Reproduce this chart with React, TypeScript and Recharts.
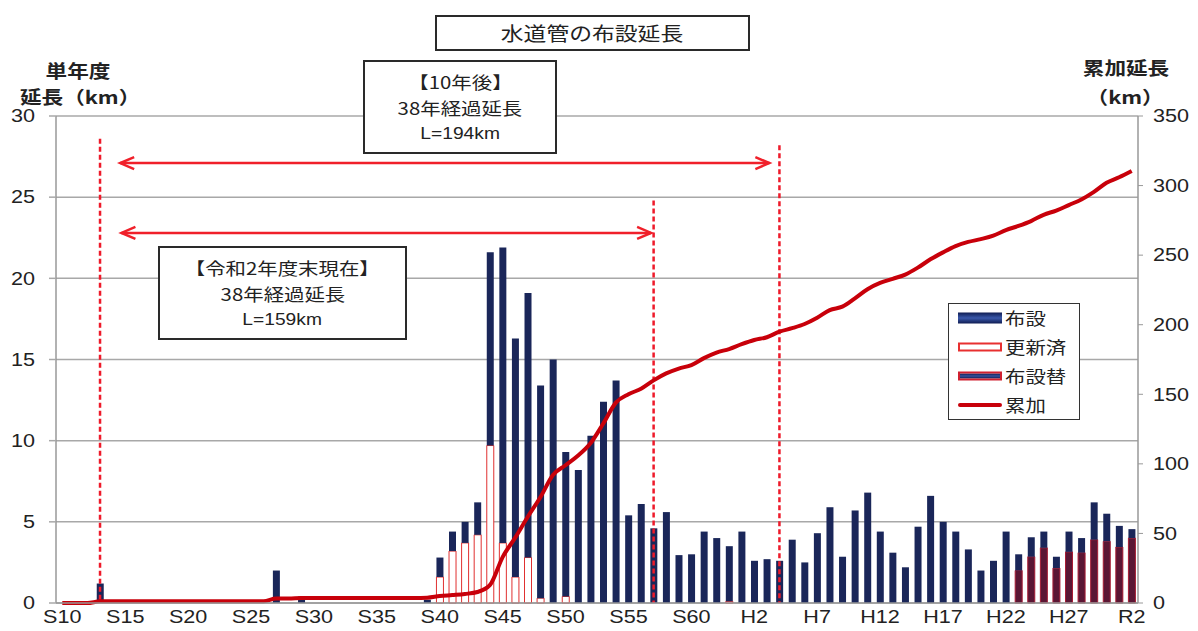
import React from 'react'
import {
  Bar,
  CartesianGrid,
  ComposedChart,
  Legend,
  Line,
  ReferenceLine,
  XAxis,
  YAxis,
} from 'recharts'

// fiscal years S10 (1935) .. R2 (2020), one bar per year
const years = Array.from({ length: 86 }, (_, i) => 1935 + i)

// 単年度延長 (km) – full height of each bar
const totalLength = [
  0, 0, 0, 1.2, 0, 0, 0, 0, 0, 0,
  0, 0, 0, 0, 0, 0, 0, 2.0, 0, 0.4,
  0, 0, 0, 0, 0, 0, 0, 0, 0, 0.2,
  2.8, 4.4, 5.0, 6.2, 21.6, 21.9, 16.3, 19.1, 13.4, 15.0,
  9.3, 8.2, 10.3, 12.4, 13.7, 5.4, 6.1, 4.6, 5.6, 2.95,
  3.0, 4.4, 4.0, 3.5, 4.4, 2.6, 2.7, 2.6, 3.9, 2.5,
  4.3, 5.9, 2.85, 5.7, 6.8, 4.4, 3.1, 2.2, 4.7, 6.6,
  5.0, 4.4, 3.3, 2.0, 2.6, 4.4, 3.0, 4.05, 4.4, 2.85,
  4.4, 4.0, 6.2, 5.5, 4.75, 4.55,
]

// 更新済 (km) – bottom part already renewed
const renewed = [
  0, 0, 0, 0, 0, 0, 0, 0, 0, 0,
  0, 0, 0, 0, 0, 0, 0, 0, 0, 0,
  0, 0, 0, 0, 0, 0, 0, 0, 0, 0,
  1.6, 3.2, 3.7, 4.2, 9.7, 3.7, 1.6, 2.8, 0.3, 0,
  0.4, 0, 0, 0, 0, 0, 0, 0, 0, 0,
  0, 0, 0, 0.1, 0, 0, 0, 0, 0, 0,
  0, 0, 0, 0, 0, 0, 0, 0, 0, 0,
  0, 0, 0, 0, 0, 0, 0, 0, 0, 0,
  0, 0, 0, 0, 0, 0,
]

// 布設替 (km)
const relaid = [
  0, 0, 0, 0, 0, 0, 0, 0, 0, 0,
  0, 0, 0, 0, 0, 0, 0, 0, 0, 0,
  0, 0, 0, 0, 0, 0, 0, 0, 0, 0,
  0, 0, 0, 0, 0, 0, 0, 0, 0, 0,
  0, 0, 0, 0, 0, 0, 0, 0, 0, 0,
  0, 0, 0, 0, 0, 0, 0, 0, 0, 0,
  0, 0, 0, 0, 0, 0, 0, 0, 0, 0,
  0, 0, 0, 0, 0, 0, 2.0, 2.85, 3.4, 2.15,
  3.15, 3.1, 3.9, 3.8, 3.45, 4.0,
]

// 累加延長 (km), right axis
const cumulative = [
  0, 0, 0, 1.2, 1.2, 1.2, 1.2, 1.2, 1.2, 1.2,
  1.2, 1.2, 1.2, 1.2, 1.2, 1.2, 1.2, 3.2, 3.2, 3.6,
  3.6, 3.6, 3.6, 3.6, 3.6, 3.6, 3.6, 3.6, 3.6, 3.8,
  5.0, 5.7, 6.5, 7.9, 13, 33, 47, 62, 76, 92,
  99, 106, 115, 129, 144, 150, 154, 160, 165, 168.5,
  171, 176, 180, 182.5, 186, 189, 191, 195, 197.5, 200.5,
  205, 210.5, 213, 219, 225.5, 230, 233, 236, 241, 247,
  252, 256.5, 259.5, 261.5, 264, 268, 271, 274.5, 279, 282,
  286, 290, 295.5, 302, 306, 310.5,
]

const tickYears = [1935, 1940, 1945, 1950, 1955, 1960, 1965, 1970, 1975, 1980, 1985, 1990, 1995, 2000, 2005, 2010, 2015, 2020]
const tickLabels = ['S10', 'S15', 'S20', 'S25', 'S30', 'S35', 'S40', 'S45', 'S50', 'S55', 'S60', 'H2', 'H7', 'H12', 'H17', 'H22', 'H27', 'R2']
const leftTicks = [0, 5, 10, 15, 20, 25, 30]
const rightTicks = [0, 50, 100, 150, 200, 250, 300, 350]

// annotations (year, km on left axis)
const boundaryYears = Array.from({ length: 87 }, (_, i) => 1934.5 + i)
const unitTicks = Array.from({ length: 31 }, (_, i) => i)
const dashedMarks = [
  { year: 1938, top: 28.6 },
  { year: 1982, top: 24.8 },
  { year: 1992, top: 28.2 },
]
const arrows = [
  { from: 1939.6, to: 1991.2, at: 27.1 },
  { from: 1939.7, to: 1981.8, at: 22.8 },
]

const data = years.map((year, i) => ({
  year,
  renewed: renewed[i],
  relaid: relaid[i],
  laid: Math.round((totalLength[i] - renewed[i] - relaid[i]) * 100) / 100,
  cumulative: cumulative[i],
}))

const NAVY = '#1a2659'
const NUM_FONT = '"Liberation Sans", Arial, sans-serif'
const JP_FONT = '"Noto Sans CJK JP", "Noto Sans", sans-serif'

const Empty = () => <g />

function NumTick(props: any) {
  const { x, y, payload, textAnchor, dy, label } = props
  const text = label ? label(payload.value) : payload.value
  return (
    <g transform={`translate(${x},${y})`}>
      <text
        transform="scale(1.2,1)"
        textAnchor={textAnchor}
        dy={dy}
        fill="#222"
        fontSize={18}
        fontFamily={NUM_FONT}
      >
        {text}
      </text>
    </g>
  )
}

function ArrowShape(props: any) {
  const { x1, y1, x2, y2 } = props
  const hx = 14
  const hy = 6
  return (
    <g stroke="#f0202a" strokeWidth={2.5} fill="none">
      <line x1={x1} y1={y1} x2={x2} y2={y2} />
      <polyline points={`${x1 + hx},${y1 - hy} ${x1},${y1} ${x1 + hx},${y1 + hy}`} />
      <polyline points={`${x2 - hx},${y2 - hy} ${x2},${y2} ${x2 - hx},${y2 + hy}`} />
    </g>
  )
}

function Stretch({ children, size, bold, family = JP_FONT, scale = 1.2 }: any) {
  return (
    <span
      style={{
        display: 'inline-block',
        transform: `scaleX(${scale})`,
        fontSize: size,
        fontWeight: bold ? 700 : 400,
        fontFamily: family,
        whiteSpace: 'nowrap',
      }}
    >
      {children}
    </span>
  )
}

function LegendBox() {
  const rows = [
    { name: '布設', kind: 'laid' },
    { name: '更新済', kind: 'renewed' },
    { name: '布設替', kind: 'relaid' },
    { name: '累加', kind: 'line' },
  ]
  return (
    <div
      style={{
        width: 132,
        height: 117,
        boxSizing: 'border-box',
        border: '1.5px solid #333',
        background: '#fff',
        position: 'relative',
      }}
    >
      {rows.map((r, i) => {
        const cy = 14 + i * 29
        let swatch: React.CSSProperties
        if (r.kind === 'line') {
          swatch = { height: 4, background: '#c8000a', borderRadius: 2 }
        } else if (r.kind === 'renewed') {
          swatch = { height: 9, background: '#fff', border: '2px solid #e83030' }
        } else if (r.kind === 'relaid') {
          swatch = {
            height: 9,
            background: 'linear-gradient(#0f1c52, #34509e 50%, #0f1c52)',
            border: '2px solid #d02030',
          }
        } else {
          swatch = { height: 11, background: 'linear-gradient(#0f1c52, #3a58aa 50%, #0f1c52)' }
        }
        return (
          <div key={r.name}>
            <div
              style={{
                position: 'absolute',
                left: 9,
                width: 44,
                top: cy,
                transform: 'translateY(-50%)',
                boxSizing: 'border-box',
                ...swatch,
              }}
            />
            <div
              style={{
                position: 'absolute',
                left: 56,
                top: cy - 12,
                lineHeight: '24px',
                color: '#222',
              }}
            >
              <span
                style={{
                  display: 'inline-block',
                  transform: 'scaleX(1.2)',
                  transformOrigin: 'left center',
                  fontSize: 17,
                  fontFamily: JP_FONT,
                }}
              >
                {r.name}
              </span>
            </div>
          </div>
        )
      })}
    </div>
  )
}

const boxStyle: React.CSSProperties = {
  position: 'absolute',
  boxSizing: 'border-box',
  border: '2px solid #2a2a2a',
  background: '#fff',
  color: '#222',
  textAlign: 'center',
}

function AxisTitle({ cx, cy, children }: any) {
  return (
    <div
      style={{
        position: 'absolute',
        left: cx - 60,
        top: cy - 10,
        width: 120,
        height: 20,
        lineHeight: '20px',
        textAlign: 'center',
        color: '#222',
      }}
    >
      <Stretch size={18} bold>{children}</Stretch>
    </div>
  )
}

export default function App() {
  const xLabel = (v: number) => tickLabels[tickYears.indexOf(v)]
  return (
    <div
      style={{
        position: 'absolute',
        left: 0,
        top: 0,
        width: 1198,
        height: 631,
        background: '#fff',
        overflow: 'hidden',
      }}
    >
      <ComposedChart
        width={1198}
        height={631}
        data={data}
        margin={{ top: 116, right: 0, bottom: 0, left: 0 }}
      >
        <CartesianGrid
          xAxisId="main"
          yAxisId="left"
          vertical={false}
          stroke="#a8a8a8"
          strokeWidth={1.5}
        />
        <XAxis
          xAxisId="minor"
          type="number"
          dataKey="year"
          domain={[1934.5, 2020.5]}
          ticks={boundaryYears}
          interval={0}
          height={0}
          axisLine={false}
          tickLine={{ stroke: '#8fa0b0' }}
          tickSize={4}
          tick={Empty}
        />
        <XAxis
          xAxisId="main"
          type="number"
          dataKey="year"
          domain={[1934.5, 2020.5]}
          ticks={tickYears}
          interval={0}
          height={28}
          axisLine={{ stroke: '#999', strokeWidth: 1.5 }}
          tickLine={false}
          tickSize={5}
          tickMargin={2}
          tick={<NumTick label={xLabel} dy="0.71em" />}
        />
        <YAxis
          yAxisId="left"
          domain={[0, 30]}
          ticks={leftTicks}
          interval={0}
          width={56}
          axisLine={{ stroke: '#999', strokeWidth: 1.5 }}
          tickLine={{ stroke: '#a8a8a8', strokeWidth: 1.5 }}
          tickSize={7}
          tickMargin={14}
          tick={<NumTick dy="0.35em" />}
        />
        <YAxis
          yAxisId="minor"
          orientation="left"
          mirror
          width={0}
          domain={[0, 30]}
          ticks={unitTicks}
          interval={0}
          axisLine={false}
          tickLine={{ stroke: '#999' }}
          tickSize={4}
          tick={Empty}
        />
        <YAxis
          yAxisId="right"
          orientation="right"
          domain={[0, 350]}
          ticks={rightTicks}
          interval={0}
          width={60}
          axisLine={{ stroke: '#999', strokeWidth: 1.5 }}
          tickLine={{ stroke: '#999' }}
          tickSize={5}
          tickMargin={10}
          tick={<NumTick dy="0.35em" />}
        />

        <Bar
          xAxisId="main"
          yAxisId="left"
          dataKey="renewed"
          name="更新済"
          stackId="a"
          barSize={7}
          fill="#fff"
          stroke="#e03030"
          strokeWidth={1}
          isAnimationActive={false}
        />
        <Bar
          xAxisId="main"
          yAxisId="left"
          dataKey="relaid"
          name="布設替"
          stackId="a"
          barSize={7}
          fill="#5a1634"
          stroke="#a81c34"
          strokeWidth={1}
          isAnimationActive={false}
        />
        <Bar
          xAxisId="main"
          yAxisId="left"
          dataKey="laid"
          name="布設"
          stackId="a"
          barSize={7}
          fill={NAVY}
          isAnimationActive={false}
        />

        {dashedMarks.map((m) => (
          <ReferenceLine
            key={m.year}
            xAxisId="main"
            yAxisId="left"
            segment={[
              { x: m.year, y: m.top },
              { x: m.year, y: 0 },
            ]}
            stroke="#ee1a2a"
            strokeWidth={2.5}
            strokeDasharray="5 3"
          />
        ))}
        {arrows.map((a) => (
          <ReferenceLine
            key={a.at}
            xAxisId="main"
            yAxisId="left"
            segment={[
              { x: a.from, y: a.at },
              { x: a.to, y: a.at },
            ]}
            shape={ArrowShape}
          />
        ))}

        <Line
          xAxisId="main"
          yAxisId="right"
          type="monotone"
          dataKey="cumulative"
          name="累加"
          stroke="#c8000a"
          strokeWidth={4}
          dot={false}
          isAnimationActive={false}
        />

        <Legend
          layout="vertical"
          align="center"
          verticalAlign="middle"
          wrapperStyle={{ left: 948, top: 303, width: 132, height: 117 }}
          content={() => <LegendBox />}
        />
      </ComposedChart>

      {/* chart title */}
      <div style={{ ...boxStyle, left: 435, top: 15, width: 315, height: 36, lineHeight: '32px' }}>
        <Stretch size={19}>水道管の布設延長</Stretch>
      </div>

      {/* after 10 years */}
      <div style={{ ...boxStyle, left: 363, top: 60, width: 194, height: 94, paddingTop: 8, lineHeight: '24px' }}>
        <div><Stretch size={17}>【10年後】</Stretch></div>
        <div><Stretch size={17}>38年経過延長</Stretch></div>
        <div><Stretch size={16} family={NUM_FONT}>L=194km</Stretch></div>
      </div>

      {/* as of end of R2 */}
      <div style={{ ...boxStyle, left: 158, top: 246, width: 249, height: 94, paddingTop: 8, lineHeight: '24px' }}>
        <div><Stretch size={17}>【令和2年度末現在】</Stretch></div>
        <div><Stretch size={17}>38年経過延長</Stretch></div>
        <div><Stretch size={16} family={NUM_FONT}>L=159km</Stretch></div>
      </div>

      {/* axis titles */}
      <AxisTitle cx={78} cy={70}>単年度</AxisTitle>
      <AxisTitle cx={80} cy={96}>延長（km）</AxisTitle>
      <AxisTitle cx={1126} cy={67}>累加延長</AxisTitle>
      <AxisTitle cx={1125} cy={96}>（km）</AxisTitle>
    </div>
  )
}
